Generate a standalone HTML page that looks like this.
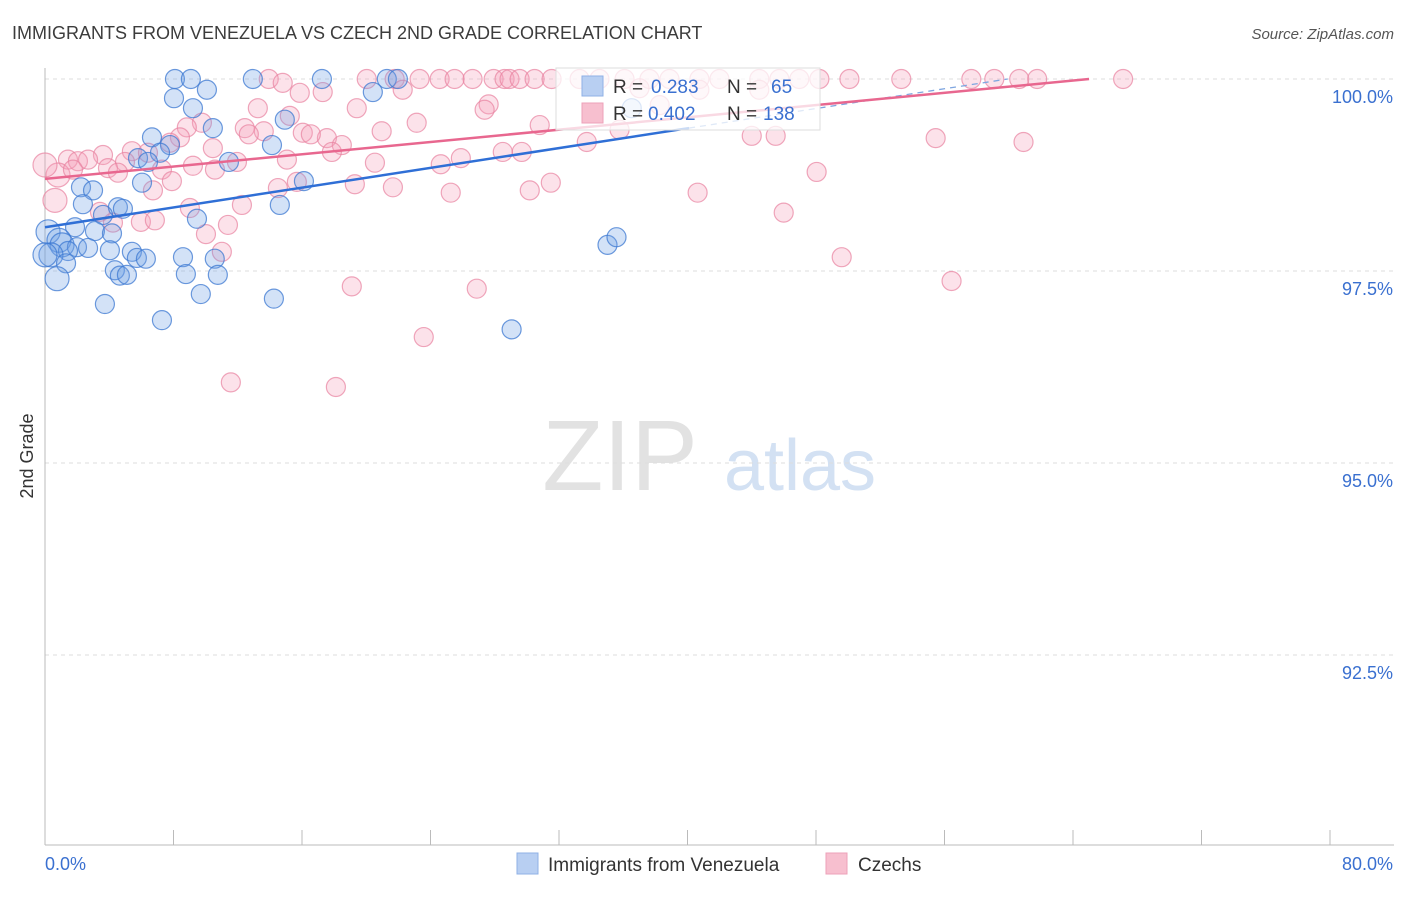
<!DOCTYPE html>
<html><head><meta charset="utf-8"><style>
body{margin:0;background:#fff;font-family:"Liberation Sans",sans-serif;}
svg text{font-family:"Liberation Sans",sans-serif;}
</style></head><body>
<svg id="chart" width="1406" height="892" viewBox="0 0 1406 892">
<text x="12" y="39" font-size="18" fill="#3c3c3c">IMMIGRANTS FROM VENEZUELA VS CZECH 2ND GRADE CORRELATION CHART</text>
<text x="1394" y="39" font-size="15" fill="#555" text-anchor="end" font-style="italic">Source: ZipAtlas.com</text>
<text x="33" y="456" font-size="18" fill="#333" text-anchor="middle" transform="rotate(-90 33 456)">2nd Grade</text>
<text x="620" y="490" font-size="100" fill="#e2e2e2" text-anchor="middle" font-family="Liberation Serif">ZIP</text>
<text x="800" y="490" font-size="72" fill="#d3e1f3" text-anchor="middle">atlas</text>
<g id="grid"></g><g id="axes"></g><g id="pts"></g><g id="trend"></g>
<g>
<rect x="556" y="68" width="264" height="62" fill="rgba(255,255,255,0.75)" stroke="#ddd"/>
<rect x="582" y="76" width="21" height="20" fill="#b8cff2" stroke="#8fb0e6"/>
<text x="613" y="93" font-size="19" fill="#333">R =</text>
<text x="651" y="93" font-size="19" fill="#3a70d0">0.283</text>
<text x="727" y="93" font-size="19" fill="#333">N =</text>
<text x="771" y="93" font-size="19" fill="#3a70d0">65</text>
<rect x="582" y="103" width="21" height="20" fill="#f7bfcf" stroke="#eea0b8"/>
<text x="613" y="120" font-size="19" fill="#333">R =</text>
<text x="648" y="120" font-size="19" fill="#3a70d0">0.402</text>
<text x="727" y="120" font-size="19" fill="#333">N =</text>
<text x="763" y="120" font-size="19" fill="#3a70d0">138</text>
</g>
<g>
<rect x="517" y="853" width="21" height="21" fill="#b8cff2" stroke="#8fb0e6"/>
<text x="548" y="871" font-size="19" fill="#333">Immigrants from Venezuela</text>
<rect x="826" y="853" width="21" height="21" fill="#f7bfcf" stroke="#eea0b8"/>
<text x="858" y="871" font-size="19" fill="#333">Czechs</text>
</g>
</svg>
<script>
const yTicks=[100,97.5,95,92.5];
const yTickLabels=["100.0%","97.5%","95.0%","92.5%"];
const xTicks=[0,8,16,24,32,40,48,56,64,72,80];
const xEndLabels=["0.0%","80.0%"];
const blueX=[8.09,9.08,12.94,17.24,21.28,21.97,8.03,10.08,9.21,20.41,14.93,36.53,10.45,6.66,7.78,14.13,7.16,5.79,6.41,11.45,2.24,2.99,6.04,16.12,2.36,4.54,4.85,14.62,3.61,9.46,1.87,3.11,4.17,0.19,0.87,1.06,1.99,2.68,1.43,4.04,5.41,5.72,6.28,8.59,10.57,0.37,1.31,4.35,4.66,5.10,8.77,10.76,0.75,9.70,3.73,14.25,7.28,29.05,35.02,35.58,0];
const blueY=[100,100,100,100,100,100,99.75,99.86,99.62,99.83,99.47,99.62,99.36,99.24,99.14,99.14,99.04,98.97,98.92,98.92,98.59,98.55,98.65,98.67,98.37,98.33,98.31,98.36,98.23,98.18,98.07,98.02,97.99,98.01,97.90,97.84,97.81,97.80,97.76,97.77,97.75,97.67,97.66,97.68,97.66,97.71,97.60,97.51,97.44,97.45,97.46,97.45,97.40,97.20,97.07,97.14,96.86,96.74,97.84,97.94,97.71];
const pinkX=[13.93,20.03,21.77,23.32,24.57,25.50,26.62,27.93,28.61,28.92,29.55,30.48,31.54,33.28,34.52,36.08,37.63,38.88,40.74,41.99,44.47,45.72,46.96,48.21,50.08,53.31,57.67,59.10,60.65,61.77,67.12,14.80,15.86,17.29,22.27,13.25,19.41,27.62,27.37,15.24,9.77,8.83,12.44,13.62,12.69,16.05,20.96,23.14,30.80,17.55,8.40,7.78,10.45,16.55,18.48,17.86,3.61,1.43,2.05,2.68,5.41,6.41,4.98,15.06,11.95,20.54,25.89,24.64,28.50,29.68,33.73,44.00,45.49,55.45,60.92,0.81,0,1.74,3.92,4.54,7.28,9.21,7.90,6.72,10.58,14.50,15.68,19.29,21.66,25.26,30.18,31.49,40.63,48.04,0.62,3.42,9.02,12.26,4.23,5.97,6.84,11.39,10.02,11.01,45.99,49.60,19.10,26.88,56.44,23.58,11.57,18.11,37.01,40.74,44.47,35.77,38.27];
const pinkY=[100,100,100,100,100,100,100,100,100,100,100,100,100,100,100,100,100,100,100,100,100,100,100,100,100,100,100,100,100,100,100,99.95,99.82,99.83,99.86,99.62,99.62,99.67,99.60,99.52,99.43,99.37,99.36,99.32,99.28,99.30,99.32,99.43,99.40,99.23,99.24,99.17,99.10,99.28,99.14,99.05,99.01,98.95,98.93,98.95,99.06,99.04,98.92,98.95,98.92,98.91,98.97,98.89,99.05,99.05,99.18,99.26,99.26,99.23,99.18,98.75,98.88,98.82,98.84,98.78,98.82,98.87,98.67,98.55,98.82,98.58,98.66,98.63,98.59,98.52,98.55,98.65,98.52,98.79,98.42,98.27,98.32,98.36,98.13,98.14,98.16,98.10,97.98,97.75,98.26,97.68,97.30,97.27,97.37,96.64,96.05,95.99,99.88,99.86,99.86,99.34,99.66];
const blueTrend=[98.07,0.0322];
const pinkTrend=[98.70,0.0200];
const blueSolidEnd=40.1;

const NS="http://www.w3.org/2000/svg";
const X=v=>45+v*(1285/80);
const Y=v=>79+(100-v)*76.8;
function mk(tag,attrs,parent){const e=document.createElementNS(NS,tag);for(const k in attrs)e.setAttribute(k,attrs[k]);parent.appendChild(e);return e;}
const grid=document.getElementById('grid'),axes=document.getElementById('axes'),pts=document.getElementById('pts'),trend=document.getElementById('trend');
yTicks.forEach((t,i)=>{
  const l=mk('line',{x1:45,x2:1394,y1:Y(t),y2:Y(t),stroke:'#ddd','stroke-dasharray':'4,4'},grid);
  
  
  const tx=mk('text',{x:1393,y:Y(t)+24,'font-size':18,fill:'#3a70d0','text-anchor':'end'},axes);
  tx.textContent=yTickLabels[i];
  
  
});
const ya=mk('line',{x1:45,x2:45,y1:68,y2:845,stroke:'#bbb'},axes);


const xa=mk('line',{x1:45,x2:1394,y1:845,y2:845,stroke:'#bbb'},axes);


xTicks.forEach(t=>{
  const l=mk('line',{x1:X(t),x2:X(t),y1:830,y2:845,stroke:'#bbb'},axes);
  
  
});
const xl0=mk('text',{x:45,y:870,'font-size':18,fill:'#3a70d0'},axes);
xl0.textContent=xEndLabels[0];


const xl1=mk('text',{x:1393,y:870,'font-size':18,fill:'#3a70d0','text-anchor':'end'},axes);
xl1.textContent=xEndLabels[1];


function dots(xs,ys,fill,stroke,name){
  xs.forEach((x,i)=>{
    const r=x<1.2?12:9.5;
    const c=mk('circle',{cx:X(x),cy:Y(ys[i]),r:r,fill:fill,stroke:stroke,'stroke-width':1.2},pts);
    
    
  });
}
dots(pinkX,pinkY,'rgba(244,160,185,0.3)','rgba(232,130,160,0.7)','czech-point');
dots(blueX,blueY,'rgba(110,160,230,0.3)','rgba(60,120,210,0.75)','venezuela-point');
function xAt100(tr){return (100-tr[0])/tr[1];}
const bEnd=xAt100(blueTrend);
const b1=mk('line',{x1:X(0),y1:Y(blueTrend[0]),x2:X(blueSolidEnd),y2:Y(blueTrend[0]+blueTrend[1]*blueSolidEnd),stroke:'#2f6fd6','stroke-width':2.5},trend);


const b2=mk('line',{x1:X(blueSolidEnd),y1:Y(blueTrend[0]+blueTrend[1]*blueSolidEnd),x2:X(bEnd),y2:Y(100),stroke:'#7fa6e0','stroke-width':1.3,'stroke-dasharray':'6,5'},trend);


const pEnd=xAt100(pinkTrend);
const p1=mk('line',{x1:X(0),y1:Y(pinkTrend[0]),x2:X(pEnd),y2:Y(100),stroke:'#e8678f','stroke-width':2.5},trend);


</script>
</body></html>
